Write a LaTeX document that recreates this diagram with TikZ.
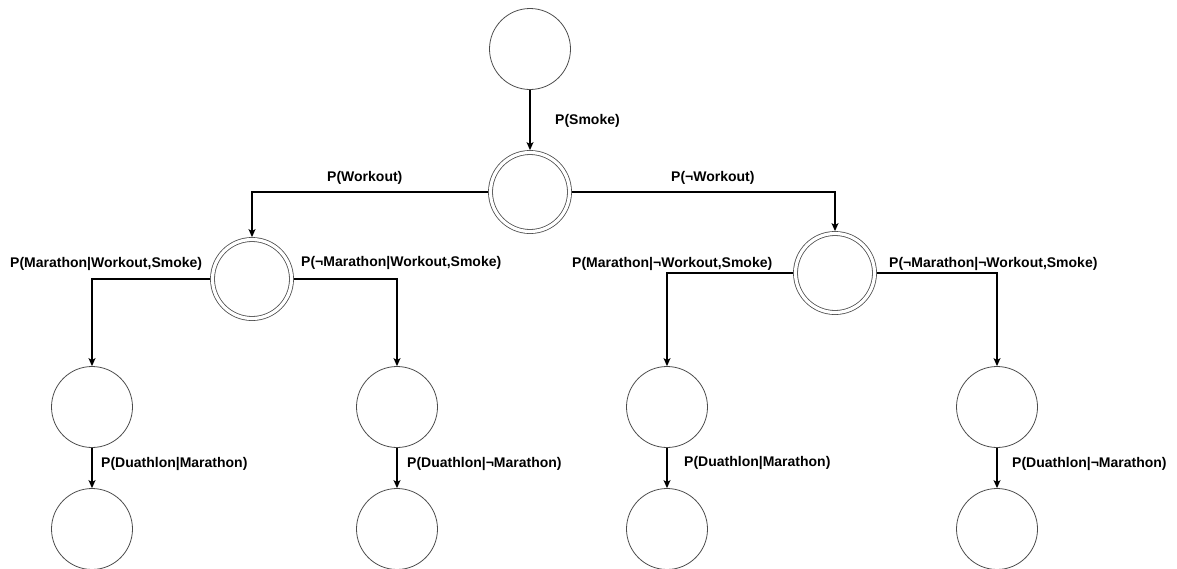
\documentclass[tikz,border=0pt]{standalone}
\usepackage{fontspec}
\setmainfont{Liberation Sans}
\usetikzlibrary{arrows.meta}
\begin{document}
\begin{tikzpicture}[x=1pt,y=-1pt,
  plain/.style={circle,draw=black!70,line width=0.8pt,minimum size=81pt,inner sep=0pt},
  dbl/.style={circle,draw=black!70,line width=0.8pt,double,double distance=3.2pt,
              minimum size=79pt,inner sep=0pt,outer sep=2.4pt},
  conn/.style={draw=black,line width=1.2pt,-{Stealth[length=8pt,width=7pt,inset=2pt]}},
  lbl/.style={anchor=west,inner sep=0pt,font=\fontsize{14}{16}\selectfont\bfseries}]
\useasboundingbox (0,0) rectangle (1177,568);

% states
\node[plain] (top) at (530,49) {};
\node[dbl] (smoke) at (530,192) {};
\node[dbl] (wk) at (252,279) {};
\node[dbl] (nwk) at (835,273) {};
\node[plain] (m1) at (92,407) {};
\node[plain] (m2) at (397,407) {};
\node[plain] (m3) at (667,407) {};
\node[plain] (m4) at (997,407) {};
\node[plain] (d1) at (92,529) {};
\node[plain] (d2) at (397,529) {};
\node[plain] (d3) at (667,529) {};
\node[plain] (d4) at (997,529) {};

% transitions
\draw[conn] (top) -- (smoke);
\draw[conn] (smoke.west) -| (wk.north);
\draw[conn] (smoke.east) -| (nwk.north);
\draw[conn] (wk.west) -| (m1.north);
\draw[conn] (wk.east) -| (m2.north);
\draw[conn] (nwk.west) -| (m3.north);
\draw[conn] (nwk.east) -| (m4.north);
\draw[conn] (m1) -- (d1);
\draw[conn] (m2) -- (d2);
\draw[conn] (m3) -- (d3);
\draw[conn] (m4) -- (d4);

% probabilities
\node[lbl] (lsmoke) at (555,121) {P(Smoke)};
\node[lbl] (lwk) at (327,178) {P(Workout)};
\node[lbl] (lnwk) at (671,178) {P(¬Workout)};
\node[lbl] (lm1) at (10,264) {P(Marathon|Workout,Smoke)};
\node[lbl] (lm2) at (301,263) {P(¬Marathon|Workout,Smoke)};
\node[lbl] (lm3) at (572,264) {P(Marathon|¬Workout,Smoke)};
\node[lbl] (lm4) at (889,264) {P(¬Marathon|¬Workout,Smoke)};
\node[lbl] (ld1) at (101,464) {P(Duathlon|Marathon)};
\node[lbl] (ld2) at (407,464) {P(Duathlon|¬Marathon)};
\node[lbl] (ld3) at (684,463) {P(Duathlon|Marathon)};
\node[lbl] (ld4) at (1012,464) {P(Duathlon|¬Marathon)};
\end{tikzpicture}
\end{document}
